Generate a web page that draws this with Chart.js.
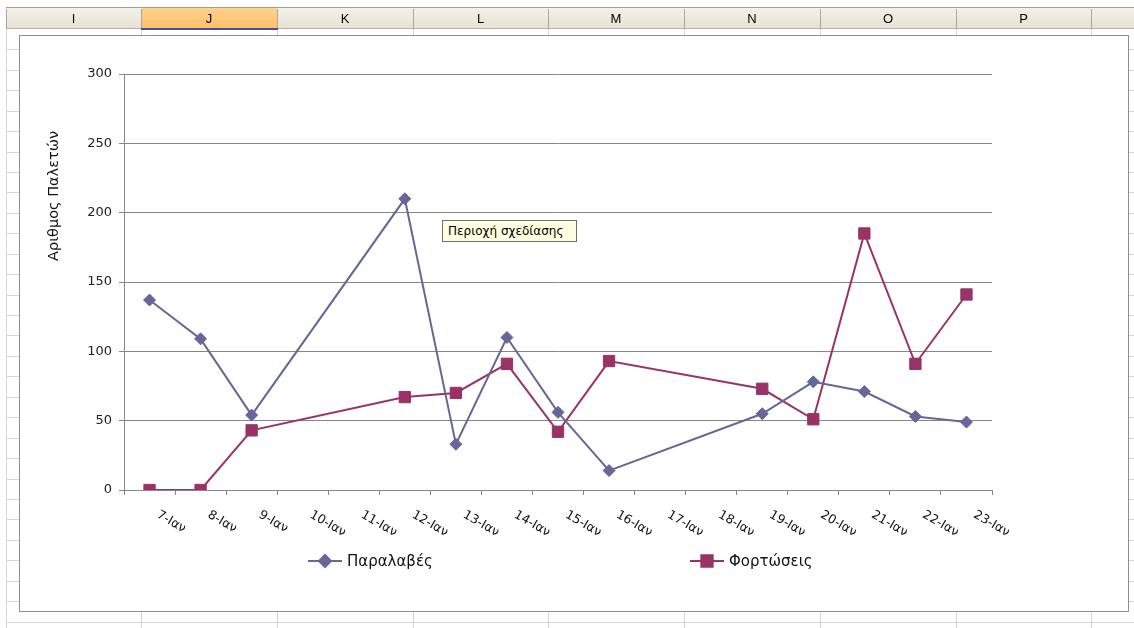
<!DOCTYPE html>
<html>
<head>
<meta charset="utf-8">
<script src="https://cdn.jsdelivr.net/npm/chart.js@4.4.1/dist/chart.umd.min.js"></script>
<style>
  html, body { margin: 0; padding: 0; }
  body { width: 1134px; height: 628px; overflow: hidden; background: #fff; position: relative;
         font-family: "DejaVu Sans", sans-serif; }
  #sheet { position: absolute; left: 0; top: 0; }
  #frame { position: absolute; left: 19px; top: 35px; width: 1110px; height: 577px;
           border: 1px solid #8e8e8e; background: #fff; box-sizing: border-box; }
  #chart { position: absolute; left: 0; top: 0; }
  #tip { position: absolute; left: 442px; top: 220px; width: 135px; height: 22px; box-sizing: border-box;
         background: #ffffe1; border: 1px solid #6e6e6e; font: 12px "DejaVu Sans", sans-serif;
         color: #000; line-height: 20px; padding-left: 5px; white-space: nowrap; }
</style>
</head>
<body>
<canvas id="sheet" width="1134" height="628"></canvas>
<div id="frame"></div>
<canvas id="chart" width="1134" height="628"></canvas>
<div id="tip">Περιοχή σχεδίασης</div>
<script>
// Worksheet columns shown above the chart
const columnLetters = ['I', 'J', 'K', 'L', 'M', 'N', 'O', 'P', ''];
const selectedColumn = 'J';

// Chart data
const categories = ['7-Ιαν', '8-Ιαν', '9-Ιαν', '10-Ιαν', '11-Ιαν', '12-Ιαν', '13-Ιαν', '14-Ιαν', '15-Ιαν',
                    '16-Ιαν', '17-Ιαν', '18-Ιαν', '19-Ιαν', '20-Ιαν', '21-Ιαν', '22-Ιαν', '23-Ιαν'];
const receipts = [137, 109, 54, null, null, 210, 33, 110, 56, 14, null, null, 55, 78, 71, 53, 49];
const loadings = [0, 0, 43, null, null, 67, 70, 91, 42, 93, null, null, 73, 51, 185, 91, 141];
const yTickValues = [0, 50, 100, 150, 200, 250, 300];
const seriesNames = ['Παραλαβές', 'Φορτώσεις'];
const yAxisTitle = 'Αριθμος Παλετών';

// ---- worksheet background (headers + cell grid) ----
(function drawSheet() {
  const c = document.getElementById('sheet').getContext('2d');
  const colEdges = [6, 141, 277, 413, 548, 684, 820, 956, 1091, 1134];
  // cell grid
  c.strokeStyle = '#d6d6d6';
  c.lineWidth = 1;
  for (let k = 0; k < 30; k++) {
    const y = Math.round(49.3 + k * 20.44) + 0.5;
    c.beginPath(); c.moveTo(6, y); c.lineTo(1134, y); c.stroke();
  }
  for (const x of colEdges) {
    c.beginPath(); c.moveTo(x + 0.5, 29); c.lineTo(x + 0.5, 628); c.stroke();
  }
  // header row
  const g = c.createLinearGradient(0, 8, 0, 29);
  g.addColorStop(0, '#f3f1e8'); g.addColorStop(1, '#e6e2d2');
  c.fillStyle = g;
  c.fillRect(6, 8, 1128, 21);
  c.fillStyle = '#9d9d9d';
  c.fillRect(6, 7, 1128, 1);
  c.fillStyle = '#b5b2a4';
  c.fillRect(6, 28, 1128, 1);
  for (let i = 0; i < columnLetters.length; i++) {
    const x0 = colEdges[i], x1 = colEdges[i + 1];
    if (columnLetters[i] === selectedColumn) {
      const gs = c.createLinearGradient(0, 8, 0, 29);
      gs.addColorStop(0, '#ffd28e'); gs.addColorStop(1, '#ffbf66');
      c.fillStyle = gs;
      c.fillRect(x0 + 1, 8, x1 - x0 - 1, 20);
      c.fillStyle = '#4b4ba0';
      c.fillRect(x0, 28, x1 - x0 + 1, 2);
    }
    c.fillStyle = '#aca899';
    c.fillRect(x0, 9, 1, 19);
    c.fillStyle = '#000';
    c.font = '13px "Liberation Sans", sans-serif';
    c.textAlign = 'center';
    c.textBaseline = 'middle';
    c.fillText(columnLetters[i], (x0 + x1) / 2, 19);
  }
})();

// ---- chart ----
const seriesColors = ['#666699', '#993366'];
const axisColor = '#868686';
const textFont = '"DejaVu Sans", sans-serif';

const annotations = {
  id: 'annotations',
  afterDraw(chart) {
    const ctx = chart.ctx;
    const xs = chart.scales.x;
    ctx.save();
    ctx.fillStyle = '#111';
    // rotated category labels
    ctx.font = '12.5px ' + textFont;
    ctx.textAlign = 'left';
    ctx.textBaseline = 'middle';
    categories.forEach((lab, i) => {
      const cx = xs.getPixelForValue(i);
      ctx.save();
      ctx.translate(cx + 8, 514);
      ctx.rotate(Math.PI / 6);
      ctx.fillText(lab, 0, 0);
      ctx.restore();
    });
    // vertical axis title
    ctx.save();
    ctx.font = '14.5px ' + textFont;
    ctx.translate(54, 196);
    ctx.rotate(-Math.PI / 2);
    ctx.textAlign = 'center';
    ctx.fillText(yAxisTitle, 0, 0);
    ctx.restore();
    // legend entries
    const legendSlots = [{x: 308, text: 347}, {x: 690, text: 729}];
    chart.data.datasets.forEach((ds, i) => {
      const s = legendSlots[i];
      const y = 561;
      ctx.strokeStyle = ds.borderColor;
      ctx.lineWidth = 2;
      ctx.beginPath(); ctx.moveTo(s.x, y); ctx.lineTo(s.x + 34, y); ctx.stroke();
      ctx.fillStyle = ds.borderColor;
      Chart.helpers.drawPoint(ctx, {pointStyle: ds.pointStyle, radius: ds.pointRadius, borderWidth: 1}, s.x + 17, y);
      ctx.fill();
      ctx.fillStyle = '#111';
      ctx.font = '15px ' + textFont;
      ctx.textAlign = 'left';
      ctx.fillText(ds.label, s.text, y + 1);
    });
    ctx.restore();
  }
};

new Chart(document.getElementById('chart'), {
  type: 'line',
  data: {
    labels: categories,
    datasets: [
      { label: seriesNames[0], data: receipts, borderColor: seriesColors[0], backgroundColor: seriesColors[0],
        borderWidth: 2, pointStyle: 'rectRot', pointRadius: 6, pointBorderWidth: 1, spanGaps: true, tension: 0 },
      { label: seriesNames[1], data: loadings, borderColor: seriesColors[1], backgroundColor: seriesColors[1],
        borderWidth: 2, pointStyle: 'rect', pointRadius: 8, pointBorderWidth: 1, spanGaps: true, tension: 0 }
    ]
  },
  options: {
    responsive: false,
    animation: false,
    events: [],
    layout: { padding: { left: 0, right: 142, top: 74, bottom: 0 } },
    plugins: { legend: { display: false }, tooltip: { enabled: false }, title: { display: false } },
    scales: {
      x: {
        offset: true,
        grid: { offset: true, drawOnChartArea: false, drawTicks: true, tickLength: 5, color: axisColor },
        border: { color: axisColor },
        ticks: { display: false },
        afterFit(s) { s.height = 138; }
      },
      y: {
        min: 0, max: 300,
        afterBuildTicks(s) { s.ticks = yTickValues.map(v => ({ value: v })); },
        ticks: { color: '#222', padding: 7, font: { family: textFont, size: 13 } },
        grid: { color: axisColor, tickLength: 5 },
        border: { color: axisColor },
        afterFit(s) { s.width = 124; }
      }
    }
  },
  plugins: [annotations]
});
</script>
</body>
</html>
